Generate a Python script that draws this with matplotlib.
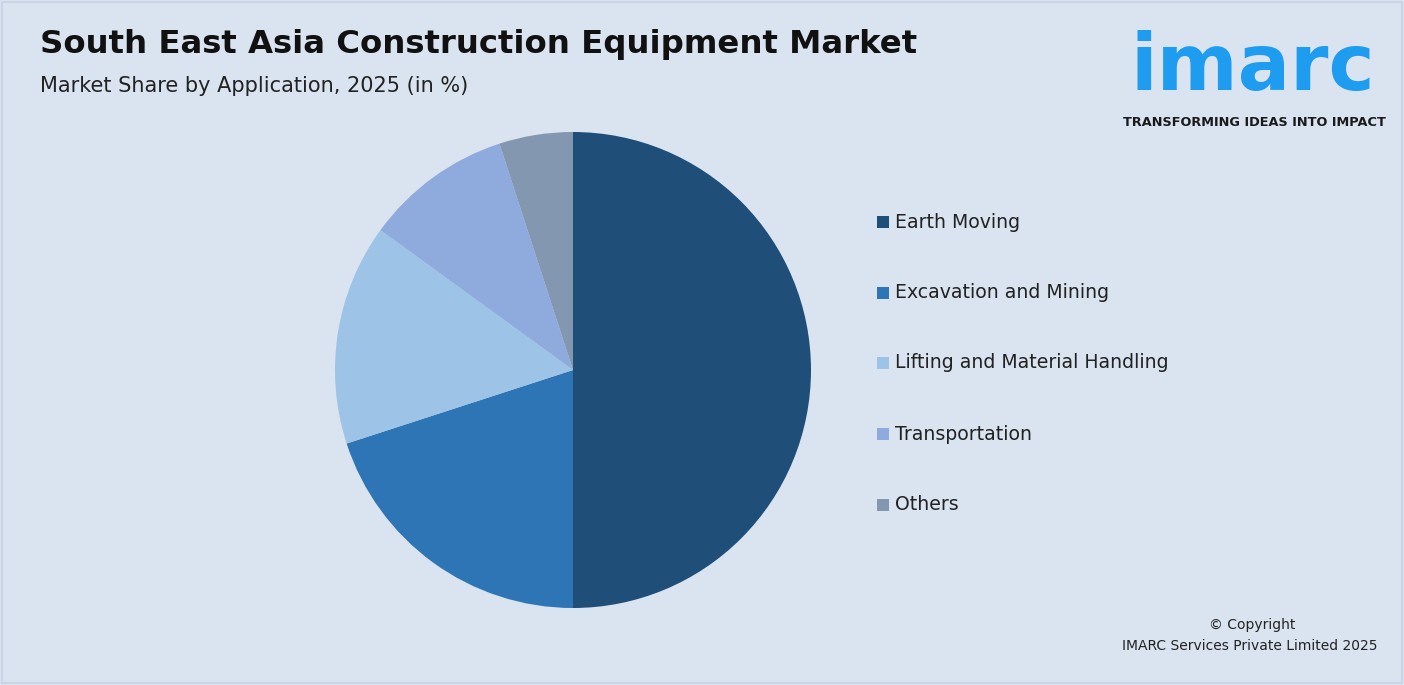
import matplotlib
matplotlib.use("Agg")
import matplotlib.pyplot as plt
from matplotlib.patches import Rectangle

categories = ["Earth Moving", "Excavation and Mining", "Lifting and Material Handling", "Transportation", "Others"]
values = [50, 20, 15, 10, 5]
colors = ["#1f4e79", "#2e75b6", "#9dc3e6", "#8faadc", "#8497b0"]

W, H = 1404, 685
fig = plt.figure(figsize=(W/100, H/100), dpi=100)
bg = "#dae4f1"
fig.patch.set_facecolor(bg)
fig.patches.append(Rectangle((2/W, 2/H), 1-4/W, 1-4/H, transform=fig.transFigure,
                             fill=False, edgecolor="#c9d5e6", lw=1.5))

cx, cy, r = 573, 370, 238
ax = fig.add_axes([(cx-r)/W, (H-cy-r)/H, 2*r/W, 2*r/H])
ax.pie(values, colors=colors, startangle=90, counterclock=False, radius=1,
       wedgeprops=dict(linewidth=0))
ax.set_xlim(-1, 1)
ax.set_ylim(-1, 1)
ax.set_aspect("equal")
ax.axis("off")

fig.text(40/W, 1-45/H, "South East Asia Construction Equipment Market", fontsize=23.3,
         fontweight="bold", va="center", ha="left", color="#111111")
fig.text(40/W, 1-86/H, "Market Share by Application, 2025 (in %)", fontsize=15,
         va="center", ha="left", color="#222222")

ys = [222, 293, 363, 434, 505]
for lab, c, y in zip(categories, colors, ys):
    fig.patches.append(Rectangle((877/W, 1-(y+6)/H), 12/W, 12/H, transform=fig.transFigure,
                                 facecolor=c, edgecolor="none"))
    fig.text(895/W, 1-y/H, lab, fontsize=13.6, va="center", ha="left", color="#222222")

fig.text(1253/W, 1-68/H, "imarc", fontsize=56, fontweight="bold", color="#1e9cf0",
         ha="center", va="center")
fig.text(1254/W, 1-123/H, "TRANSFORMING IDEAS INTO IMPACT", fontsize=9.3, fontweight="bold",
         color="#1a1a1a", ha="center", va="center")

fig.text(1295/W, 1-625/H, "© Copyright", fontsize=10, ha="right", va="center", color="#222222")
fig.text(1378/W, 1-646/H, "IMARC Services Private Limited 2025", fontsize=10, ha="right",
         va="center", color="#222222")

fig.savefig("out.png", dpi=100, facecolor=bg)
